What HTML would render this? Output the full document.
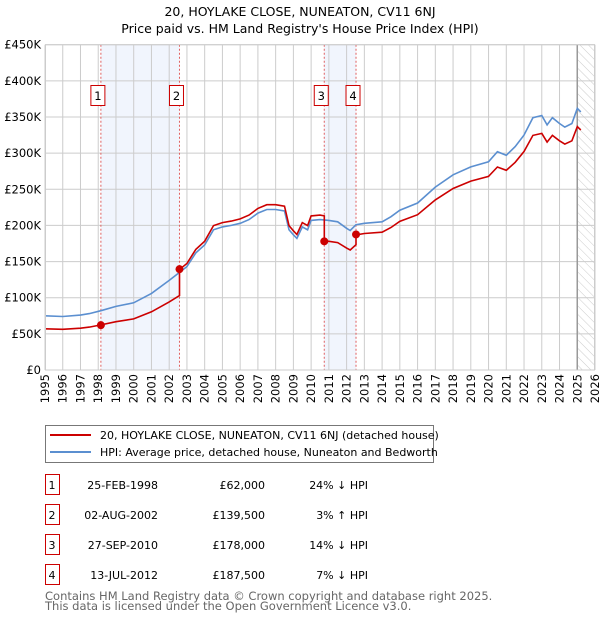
<!DOCTYPE html>
<html><head><meta charset="utf-8"><style>
body{margin:0;background:#fff;}
svg{display:block;font-family:"DejaVu Sans","Liberation Sans",sans-serif;}
</style></head><body>
<svg id="chart" width="600" height="620" viewBox="0 0 600 620">
<defs>
<pattern id="hatch" width="6" height="6" patternUnits="userSpaceOnUse" patternTransform="rotate(-45)">
<line x1="0" y1="0" x2="0" y2="6" stroke="#ccc" stroke-width="1"/>
</pattern>
</defs>
<text x="300" y="16" text-anchor="middle" font-size="12.5" fill="#000">20, HOYLAKE CLOSE, NUNEATON, CV11 6NJ</text>
<text x="300" y="33" text-anchor="middle" font-size="12.5" fill="#000">Price paid vs. HM Land Registry's House Price Index (HPI)</text>
<g id="plot"></g>
<g id="legend">
<rect x="45.5" y="425.5" width="388" height="37" fill="#fff" stroke="#777"/>
<line x1="50" y1="435" x2="91" y2="435" stroke="#cc0000" stroke-width="2"/>
<text x="100" y="439" font-size="11">20, HOYLAKE CLOSE, NUNEATON, CV11 6NJ (detached house)</text>
<line x1="50" y1="452" x2="91" y2="452" stroke="#5b8fd0" stroke-width="2"/>
<text x="100" y="456" font-size="11">HPI: Average price, detached house, Nuneaton and Bedworth</text>
</g>
<g id="table"></g>
<text x="45" y="600" font-size="11.5" fill="#666">Contains HM Land Registry data © Crown copyright and database right 2025.</text>
<text x="45" y="610" font-size="11.5" fill="#666">This data is licensed under the Open Government Licence v3.0.</text>
</svg>
<script>
const hpiYears=[1995,1996,1997,1997.5,1998.15,1999,2000,2001,2002,2002.58,2003,2003.5,2004,2004.5,2005,2005.5,2006,2006.5,2007,2007.5,2008,2008.5,2008.75,2009,2009.2,2009.5,2009.8,2010,2010.5,2011,2011.5,2012,2012.2,2012.53,2013,2014,2014.5,2015,2016,2017,2018,2019,2020,2020.5,2021,2021.5,2022,2022.5,2023,2023.3,2023.6,2024,2024.3,2024.7,2025,2025.2];
const hpiValues=[75,74,76,78,82,88,93,106,124,135,143,162,173,194,198,200,203,208,217,222,222,220,194,187,182,198,194,207,208,207,205,196,193,201,203,205,212,221,231,253,270,281,288,302,297,309,325,349,352,339,349,341,336,341,362,357];
const saleDates=[1998.15,2002.58,2010.74,2012.53];
const salePrices=[62,139.5,178,187.5];
const saleRatios=[0.76,1.03,0.86,0.93];
const saleLabels=["1","2","3","4"];
const saleDateText=["25-FEB-1998","02-AUG-2002","27-SEP-2010","13-JUL-2012"];
const salePriceText=["£62,000","£139,500","£178,000","£187,500"];
const saleHpiText=["24% ↓ HPI","3% ↑ HPI","14% ↓ HPI","7% ↓ HPI"];
const yTicks=[0,50,100,150,200,250,300,350,400,450];
const yTickLabels=["£0","£50K","£100K","£150K","£200K","£250K","£300K","£350K","£400K","£450K"];
const xTicks=[1995,1996,1997,1998,1999,2000,2001,2002,2003,2004,2005,2006,2007,2008,2009,2010,2011,2012,2013,2014,2015,2016,2017,2018,2019,2020,2021,2022,2023,2024,2025,2026];

const L=45,R=595,T=44.7,B=370;
const x=v=>L+(v-1995)/(2026-1995)*(R-L);
const y=v=>B-v/450*(B-T);
const NS="http://www.w3.org/2000/svg";
const plot=document.getElementById('plot');
function mk(tag,attrs,parent){const e=document.createElementNS(NS,tag);for(const k in attrs)e.setAttribute(k,attrs[k]);(parent||plot).appendChild(e);return e;}

for(let i=0;i<saleDates.length;i+=2){
 const r=mk('rect',{x:x(saleDates[i]),y:T,width:x(saleDates[i+1])-x(saleDates[i]),height:B-T,fill:'#eef3fc',opacity:0.8});
 
 
}
const h=mk('rect',{x:x(2025),y:T,width:R-x(2025),height:B-T,fill:'url(#hatch)'});


xTicks.forEach((t,i)=>{
 const g=mk('line',{x1:x(t),x2:x(t),y1:T,y2:B,stroke:'#ccc','stroke-width':1});
 
 
 const tx=mk('text',{x:0,y:0,'text-anchor':'end','font-size':11.5,fill:'#000',transform:'translate('+(x(t)+4).toFixed(1)+','+(B+4)+') rotate(-90)'});
 tx.textContent=t;
 
 
});
yTicks.forEach((t,i)=>{
 const g=mk('line',{x1:L,x2:R,y1:y(t),y2:y(t),stroke:'#ccc','stroke-width':1});
 
 
 const tx=mk('text',{x:L-4,y:y(t)+4,'text-anchor':'end','font-size':11.5,fill:'#000'});
 tx.textContent=yTickLabels[i];
 
 
});
const fl=mk('line',{x1:x(2025),x2:x(2025),y1:T,y2:B,stroke:'#999','stroke-width':1.5});


saleDates.forEach((d,i)=>{
 const l=mk('line',{x1:x(d),x2:x(d),y1:T,y2:B,stroke:'#e06060','stroke-width':1,'stroke-dasharray':'2,2'});
 
 
});
const hp=hpiYears.map((t,i)=>x(t).toFixed(1)+','+y(hpiValues[i]).toFixed(1)).join(' ');
const hl=mk('polyline',{points:hp,fill:'none',stroke:'#5b8fd0','stroke-width':1.6});


function ratioAt(t){let r=saleRatios[0];saleDates.forEach((d,i)=>{if(t>=d-1e-6)r=saleRatios[i];});return r;}
let pts=[];
hpiYears.forEach((t,i)=>{
 saleDates.forEach((d,j)=>{ if(j>0 && i>0 && hpiYears[i-1]<d && t>=d){pts.push([x(d),y(salePrices[j]/saleRatios[j]*saleRatios[j-1])]);pts.push([x(d),y(salePrices[j])]);} });
 pts.push([x(t),y(hpiValues[i]*ratioAt(t))]);
});
const pl=mk('polyline',{points:pts.map(p=>p[0].toFixed(1)+','+p[1].toFixed(1)).join(' '),fill:'none',stroke:'#cc0000','stroke-width':1.6});


saleDates.forEach((d,i)=>{
 const c=mk('circle',{cx:x(d),cy:y(salePrices[i]),r:4,fill:'#cc0000'});
 
 
 const cx=x(d)-3;
 const r=mk('rect',{x:cx-7,y:85.5,width:14,height:20,fill:'#fff',stroke:'#cc0000'});
 
 
 const tx=mk('text',{x:cx,y:100,'text-anchor':'middle','font-size':11.5});
 tx.textContent=saleLabels[i];
 
 
});
mk('rect',{x:L+0.5,y:T,width:R-L-1,height:B-T,fill:'none',stroke:'#ccc'});
const tb=document.getElementById('table');
saleLabels.forEach((s,i)=>{
 const cy=486+i*30;
 const r=mk('rect',{x:45.5,y:cy-11.5,width:14,height:20,fill:'#fff',stroke:'#cc0000'},tb);
 
 
 const vals=[[s,52,'middle'],[saleDateText[i],158,'end'],[salePriceText[i],265,'end'],[saleHpiText[i],368,'end']];
 vals.forEach(v=>{
  const t=mk('text',{x:v[1],y:cy+3,'text-anchor':v[2],'font-size':11},tb);
  t.textContent=v[0];
  
  
 });
});
</script>
</body></html>
